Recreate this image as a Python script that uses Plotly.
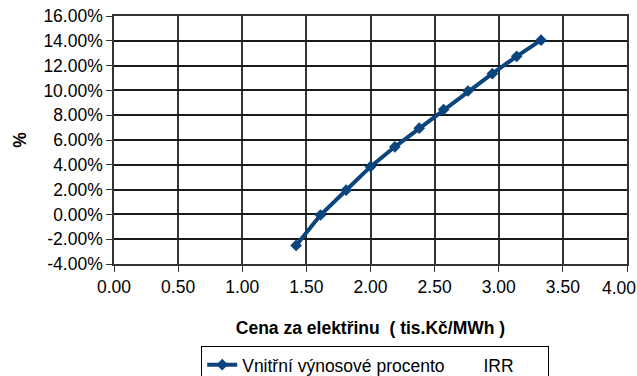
import plotly.graph_objects as go

# Electricity price (thousand CZK per MWh) and resulting internal rate of return (%)
price = [1.42, 1.61, 1.81, 2.00, 2.19, 2.38, 2.57, 2.76, 2.95, 3.14, 3.33]
irr_pct = [-2.50, -0.05, 1.95, 3.85, 5.45, 6.95, 8.45, 9.95, 11.35, 12.75, 14.05]

y_ticks = [-4, -2, 0, 2, 4, 6, 8, 10, 12, 14, 16]
y_tick_labels = ["-4.00%", "-2.00%", "0.00%", "2.00%", "4.00%", "6.00%",
                 "8.00%", "10.00%", "12.00%", "14.00%", "16.00%"]
x_ticks = [0.0, 0.5, 1.0, 1.5, 2.0, 2.5, 3.0, 3.5, 4.0]
x_tick_labels = ["0.00", "0.50", "1.00", "1.50", "2.00", "2.50", "3.00", "3.50", "4.00"]

series_name = "Vnitřní výnosové procento" + "\u00a0" * 8 + "IRR" + "\u00a0" * 6
line_color = "#0a457d"
font_family = "Liberation Sans, Arial, sans-serif"
fs = 17.5

fig = go.Figure()
fig.add_trace(go.Scatter(
    x=price,
    y=irr_pct,
    mode="lines+markers",
    name=series_name,
    line=dict(color=line_color, width=4),
    marker=dict(symbol="diamond", size=9, color=line_color),
    showlegend=True,
))

# the last category label sits at the very right edge, so pin it inside the page
fig.add_annotation(
    x=x_ticks[-1], xref="x", y=0, yref="paper",
    text=x_tick_labels[-1], showarrow=False,
    xanchor="right", yanchor="top", xshift=11, yshift=-12,
    font=dict(family=font_family, size=fs, color="black"),
)

fig.update_layout(
    width=637,
    height=376,
    margin=dict(l=114, r=10, t=16, b=112, autoexpand=False),
    paper_bgcolor="white",
    plot_bgcolor="white",
    font=dict(family=font_family, size=fs, color="black"),
    showlegend=True,
    legend=dict(
        x=0.17, xanchor="left",
        y=-0.33, yanchor="top",
        bordercolor="black", borderwidth=1,
        bgcolor="white",
        font=dict(size=fs),
    ),
    xaxis=dict(
        range=[0, 4],
        tickvals=x_ticks,
        ticktext=x_tick_labels[:-1] + [""],
        automargin=False,
        showgrid=True, gridcolor="#333333", gridwidth=1.5,
        showline=True, linecolor="#333333", linewidth=1.5, mirror=True,
        ticks="outside", ticklen=6, tickcolor="#333333",
        zeroline=False,
        title=dict(text="<b>Cena za elektřinu  ( tis.Kč/MWh )</b>",
                   font=dict(size=fs), standoff=26),
    ),
    yaxis=dict(
        range=[-4, 16],
        tickvals=y_ticks,
        ticktext=y_tick_labels,
        automargin=False,
        showgrid=True, gridcolor="#1a1a1a", gridwidth=2,
        showline=True, linecolor="#333333", linewidth=1.5, mirror=True,
        ticks="outside", ticklen=6, tickcolor="#333333",
        zeroline=False,
        title=dict(text="<b>%</b>", font=dict(size=fs), standoff=12),
    ),
)

fig.write_html("out.html")
